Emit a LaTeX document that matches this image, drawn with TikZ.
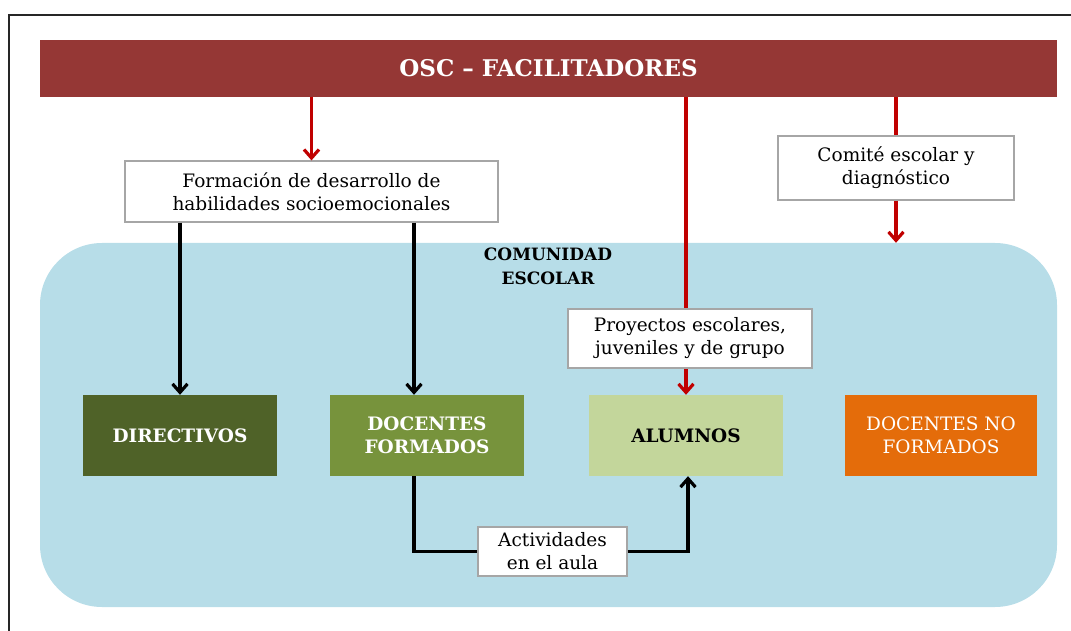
\documentclass[tikz,border=0pt]{standalone}
\usepackage{fontspec}
\setmainfont{DejaVu Serif}
\usetikzlibrary{arrows.meta}
\definecolor{barred}{HTML}{953735}
\definecolor{arrred}{HTML}{C00000}
\definecolor{comblue}{HTML}{B7DDE8}
\definecolor{dirgreen}{HTML}{4F6228}
\definecolor{docgreen}{HTML}{77933C}
\definecolor{alugreen}{HTML}{C3D69B}
\definecolor{noorange}{HTML}{E46C0A}
\tikzset{% styles for the boxes and arrows
    lbl/.style={draw=black!35, fill=white, line width=1.2pt, align=center,
        inner sep=0pt, font=\fontsize{18.5}{23}\selectfont},
    grp/.style={minimum width=194pt, minimum height=81pt, align=center,
        inner sep=0pt, font=\bfseries\fontsize{18.5}{23}\selectfont},
    ra/.style={-{Straight Barb[length=8.5pt,width=15pt,line width=3.2pt]}, draw=arrred, line width=3.2pt},
    ba/.style={-{Straight Barb[length=8.5pt,width=15pt,line width=3.2pt]}, draw=black, line width=3.2pt},
    rl/.style={draw=arrred, line width=3.2pt},
    bl/.style={draw=black, line width=3.2pt}}

\begin{document}
\begin{tikzpicture}[x=1pt,y=-1pt]
  \useasboundingbox (0,0) rectangle (1071,631);
  \draw[black!85, line width=1.8pt] (1071,15) -- (9,15) -- (9,631);

  \node[fill=comblue, rounded corners=62pt, minimum width=1017pt, minimum height=364pt] (com) at (548.5,425) {};
  \node[fill=barred, minimum width=1017pt, minimum height=57pt, text=white,
        font=\bfseries\fontsize{23}{26}\selectfont] (bar) at (548.5,68.5) {OSC -- FACILITADORES};
  \node[align=center, font=\bfseries\fontsize{17}{24}\selectfont] (comlbl) at (548,266) {COMUNIDAD\\ESCOLAR};

  \node[lbl, minimum width=373pt, minimum height=61pt] (form) at (311.5,191.5) {Formación de desarrollo de\\habilidades socioemocionales};
  \node[lbl, minimum width=236pt, minimum height=64pt] (comite) at (896,168) {Comité escolar y\\diagnóstico};

  \node[grp, fill=dirgreen, text=white] (dir) at (180,435.5) {DIRECTIVOS};
  \node[grp, fill=docgreen, text=white] (docf) at (427,435.5) {DOCENTES\\FORMADOS};
  \node[grp, fill=alugreen, text=black] (alum) at (686,435.5) {ALUMNOS};
  \node[grp, minimum width=192pt, fill=noorange, text=white, font=\fontsize{18.5}{23}\selectfont] (docnf) at (941,435.5) {DOCENTES NO\\FORMADOS};
  \coordinate (docin) at ([xshift=-13pt]docf.north);
  \coordinate (docout) at ([xshift=-13pt]docf.south);

  \draw[ra] (bar.south -| form.north) -- (form.north);
  \draw[rl] (bar.south -| comite.north) -- (comite.north);
  \draw[ra] (comite.south) -- (comite.south |- com.north);
  \draw[ra] (bar.south -| alum.north) -- (alum.north);

  \node[lbl, minimum width=244pt, minimum height=59pt] (proy) at (690,338.5) {Proyectos escolares,\\juveniles y de grupo};
  \node[lbl, minimum width=149pt, minimum height=49pt] (act) at (552.5,551.5) {Actividades\\en el aula};

  \draw[ba] (form.south -| dir.north) -- (dir.north);
  \draw[ba] (form.south -| docin) -- (docin);
  \draw[bl] (docout) |- (act.west);
  \draw[ba] (act.east) -| ([xshift=2pt]alum.south);
\end{tikzpicture}
\end{document}
